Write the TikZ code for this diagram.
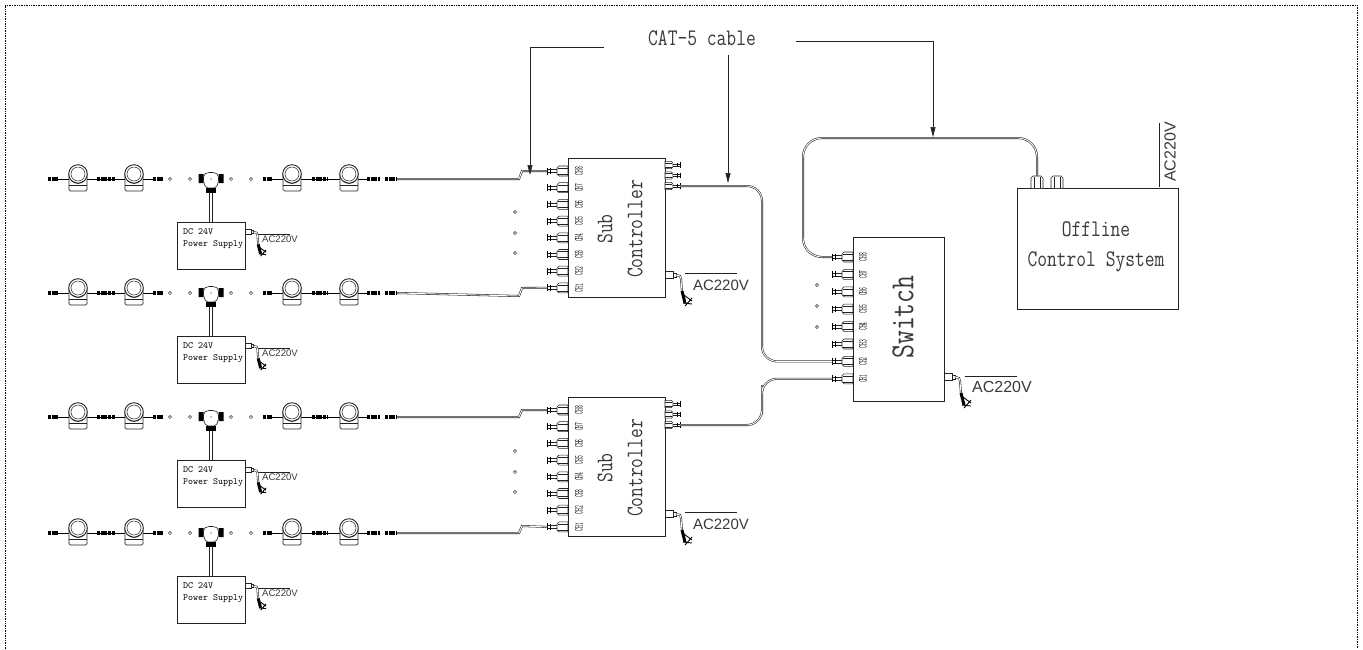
\documentclass[tikz,border=0pt]{standalone}
\usepackage{fontspec}
\usepackage{graphicx}
\usetikzlibrary{arrows.meta}
\newfontfamily\acfont{Liberation Sans}
\newcommand{\tallmono}[1]{\scalebox{1}[1.25]{#1}}
\definecolor{inkline}{HTML}{222222}
\definecolor{inktext}{HTML}{3A3A3A}
\tikzset{
	devbox/.style={draw=inkline, line width=0.7pt, fill=white, anchor=north west, inner sep=0pt, outer sep=0pt},
	cable/.style={draw=inkline, double=white, double distance=0.9pt, line width=0.55pt},
	leader/.style={draw=inkline, line width=0.6pt},
	leadarrow/.style={leader, -{Triangle[length=10pt,width=5pt]}},
	wire/.style={draw=black, line width=1pt},
	chunk/.style={draw=black, line width=3.4pt, dash pattern=on 3pt off 0.7pt},
	gapdot/.style={draw=inkline, line width=0.5pt},
	bigmono/.style={text=inktext, font=\fontsize{19}{30}\selectfont\ttfamily, inner sep=0pt, align=center},
	smallmono/.style={text=black, font=\fontsize{9.5}{12}\selectfont\ttfamily, inner sep=0pt, align=left, anchor=west},
	chlabel/.style={text=black, font=\fontsize{12}{12}\selectfont\ttfamily, inner sep=0pt, rotate=90},
	pics/port/.style={code={
		\draw[draw=inkline, line width=0.55pt, fill=white] (0,-5) -- (-9,-5) -- (-11,-3) -- (-11,3) -- (-9,5) -- (0,5) -- cycle;
		\draw[draw=inkline, line width=0.4pt] (0,-3) -- (-10,-3) (0,3) -- (-10,3);
		\draw[draw=inkline, line width=0.55pt] (-11,-1.5) -- (-21,-1.5) (-11,1.5) -- (-21,1.5);
		\draw[draw=black, line width=1pt] (-21,-3.5) -- (-21,3.5) (-18,-3) -- (-18,3);
	}},
	pics/portbank/.style n args={3}{code={
		\foreach \i in {1,...,8} {
			\pgfmathsetmacro{\porty}{#1+#2*(8-\i)}
			\pic at (0,\porty) {port};
			\coordinate (-ch\i) at (-21,\porty);
			\node[chlabel] (-lab\i) at (#3,\porty) {\scalebox{.45}[1]{CH\i}};
		}
	}},
	pics/outbank/.style={code={
		\foreach \i/\outy in {1/7,2/17.5,3/28} {
			\pic[xscale=-0.72, yscale=0.72] at (0,\outy) {port};
			\coordinate (-out\i) at (15,\outy);
		}
	}},
	pics/mains/.style={code={
		\draw[draw=inkline, line width=0.55pt, fill=white] (0,-3.5) rectangle (8,3.5);
		\draw[draw=inkline, line width=0.55pt, fill=white] (8,-1.8) rectangle (11,1.8);
		\draw[cable] (11,0) -- (15,1) -- (16,4) -- (17,17);
		\draw[draw=black, line width=3pt] (17,16) -- (20,28);
		\draw[draw=black, line width=0.9pt] (19,20) -- (27,26) (18,28) -- (27,29) (20,31) -- (27,23);
	}},
	pics/fixture/.style={code={
		\draw[draw=inkline, line width=0.7pt, fill=white, rounded corners=1.5pt] (-9,-5) -- (-9,12) -- (9,12) -- (9,-5);
		\draw[draw=inkline, line width=0.5pt] (-9,6) -- (9,6);
		\draw[draw=inkline, line width=0.9pt, fill=white] (0,-5) circle (9.3pt);
		\draw[draw=inkline, line width=0.5pt] (0,-5) circle (7pt);
		\draw[draw=inkline, line width=0.5pt] (-6,2) -- (0,4.5) -- (6,2);
	}},
	pics/lamprow/.style={code={
		\draw[wire] (58,0) -- (153,0) (272,0) -- (367,0);
		\draw[chunk] (48,0) -- (58,0);
		\draw[chunk] (97,0) -- (115,0);
		\draw[chunk] (153,0) -- (163,0);
		\draw[chunk] (263,0) -- (272,0);
		\draw[chunk] (312,0) -- (328,0);
		\draw[chunk] (367,0) -- (380,0);
		\draw[chunk] (385,0) -- (397,0);
		\foreach \x in {78,134,292,349} \pic at (\x,0) {fixture};
		\foreach \x in {170,190,231,251} \draw[gapdot] (\x,0) circle (1.6pt);
		\fill[black] (198.5,-5) rectangle (203.5,4) (218.5,-5) rectangle (223.5,4);
		\draw[draw=inkline, line width=0.6pt, fill=white, rounded corners=2pt] (203.5,-4) -- (207,-6.5) -- (215,-6.5) -- (218.5,-4) -- (218.5,3) -- (216,9) -- (206,9) -- (203.5,3) -- cycle;
		\fill[black] (206,9) rectangle (216,13.5);
		\fill[black] (211,0) circle (0.7pt);
		\coordinate (-tee) at (211,13.5);
		\coordinate (-end) at (397,0);
	}},
}
\begin{document}
\begin{tikzpicture}[x=1pt, y=-1pt]
	\useasboundingbox (0,0) rectangle (1363,649);
	\draw[densely dotted, draw=black, line width=0.7pt] (5,649) -- (5,5) -- (1357,5) -- (1357,649);

	\foreach \r/\y in {1/179,2/293,3/417,4/533} {
		\pic (row\r) at (0,\y) {lamprow};
		\node[devbox, minimum width=68, minimum height=47] (psu\r) at (177,\y+43) {};
		\node[smallmono] (psutext\r) at (183,\y+60) {DC 24V\\Power Supply};
		\draw[cable, double distance=2.6pt] (row\r-tee) -- (psu\r.north);
		\pic[scale=0.78] at (245,\y+53) {mains};
		\node[text=inktext, font=\fontsize{9.6}{10}\selectfont\acfont, inner sep=0pt] (psuac\r) at (280,\y+60) {AC220V};
		\draw[leader, line width=0.5pt] (psuac\r.north west) ++(-4,-1.5) -- ++(32,0);
	}

	\foreach \s/\t/\dota/\dotb/\dotc in {1/158/212/233/253,2/397/451/472/492} {
		\pic (sub\s) at (568,\t) {portbank={13}{16.7}{11}};
		\node[devbox, minimum width=97, minimum height=139.5] (sub\s box) at (568,\t) {};
		\foreach \i in {1,...,8} {
			\node[chlabel] (sub\s lab\i) at (579,{\t+13+16.7*(8-\i)}) {\scalebox{.45}[1]{CH\i}};
		}
		\node[bigmono, rotate=90] (sub\s text) at (620,\t+71) {\tallmono{Sub}\\\tallmono{Controller}};
		\pic (sub\s r) at (665,\t) {outbank};
		\pic at (665,\t+117) {mains};
		\node[text=inktext, font=\fontsize{15}{15}\selectfont\acfont, inner sep=0pt] (subac\s) at (721,\t+127) {AC220V};
		\draw[leader] (subac\s.north west) ++(-8,-6) -- ++(52,0);
		\foreach \y in {\dota,\dotb,\dotc} \draw[gapdot] (515,\y) circle (1.6pt);
	}

	\pic (sw) at (853,237) {portbank={20}{17.4}{10}};
	\node[devbox, minimum width=91, minimum height=164] (swbox) at (853,237) {};
	\foreach \i in {1,...,8} {
		\node[chlabel] (swlab\i) at (863,{237+20+17.4*(8-\i)}) {\scalebox{.45}[1]{CH\i}};
	}
	\node[bigmono, rotate=90, font=\fontsize{27}{30}\selectfont\ttfamily] (swtext) at (903,317) {\tallmono{Switch}};
	\pic at (944,377) {mains};
	\node[text=inktext, font=\fontsize{16}{16}\selectfont\acfont, inner sep=0pt] (swac) at (1002,387) {AC220V};
	\draw[leader] (swac.north west) ++(-7,-5) -- ++(52,0);
	\foreach \y in {285,306,327} \draw[gapdot] (817,\y) circle (1.6pt);

	\node[devbox, minimum width=161, minimum height=121] (offline) at (1017,188) {};
	\node[bigmono] (offtext) at (1096,247) {\tallmono{Offline}\\\tallmono{Control System}};
	\foreach \x in {1037,1057} {
		\draw[draw=inkline, line width=0.6pt, fill=white] (\x-6,188) -- (\x-6,178) -- (\x-4,176) -- (\x+4,176) -- (\x+6,178) -- (\x+6,188);
		\draw[draw=inkline, line width=0.4pt] (\x-3,177) -- (\x-3,188) (\x+3,177) -- (\x+3,188);
	}
	\coordinate (offport) at (1037,176);
	\node[text=inktext, font=\fontsize{16}{16}\selectfont\acfont, inner sep=0pt, rotate=90] (offac) at (1170,152) {AC220V};
	\coordinate (offacbar) at (1159,187);
	\draw[leader] (offacbar) -- ++(0,-64);

	\draw[cable] (row1-end) -- ++(122,0) -- ++(3,-8) -- (sub1-ch8);
	\draw[cable] (row2-end) -- ++(122,3) -- ++(3,-8) -- (sub1-ch1);
	\draw[cable] (row3-end) -- ++(122,0) -- ++(3,-7) -- (sub2-ch8);
	\draw[cable] (row4-end) -- ++(122,0) -- ++(3,-7) -- (sub2-ch1);

	\coordinate (benda) at (762,270);
	\coordinate (bendb) at (762,400);
	\coordinate (bendc) at (803,200);
	\coordinate (bendd) at (930,138);
	\draw[cable, rounded corners=15pt] (sub1r-out3) -| (benda) |- (sw-ch2);
	\draw[cable, rounded corners=15pt] (sub2r-out3) -| (bendb) |- (sw-ch1);
	\draw[cable, rounded corners=19pt] (sw-ch8) -| (bendc) |- (bendd) -| (offport);

	\node[bigmono] (cat) at (702,38) {\tallmono{CAT-5 cable}};
	\coordinate (leada) at (604,47);
	\coordinate (tipa) at (530,175);
	\coordinate (leadb) at (728,55);
	\coordinate (tipb) at (728,183);
	\coordinate (leadc) at (796,41);
	\coordinate (tipc) at (933,137);
	\draw[leadarrow] (leada) -| (tipa);
	\draw[leadarrow] (leadb) -- (tipb);
	\draw[leadarrow] (leadc) -| (tipc);
\end{tikzpicture}
\end{document}
